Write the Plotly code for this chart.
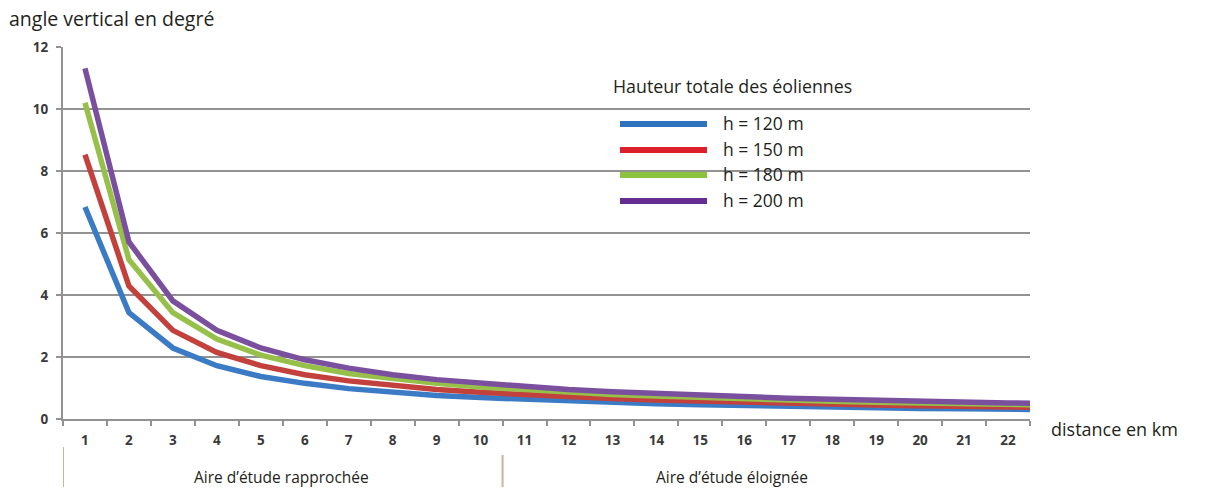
import plotly.graph_objects as go

# Distance from the turbines (km)
distance_km = list(range(1, 24))

# Vertical angle (degrees) under which a turbine of total height h is seen
angle_h120 = [6.84, 3.43, 2.29, 1.72, 1.37, 1.15, 0.98, 0.86, 0.76, 0.69, 0.63,
              0.57, 0.53, 0.49, 0.46, 0.43, 0.40, 0.38, 0.36, 0.34, 0.33, 0.31, 0.30]
angle_h150 = [8.53, 4.29, 2.86, 2.15, 1.72, 1.43, 1.23, 1.07, 0.95, 0.86, 0.78,
              0.72, 0.66, 0.61, 0.57, 0.54, 0.51, 0.48, 0.45, 0.43, 0.41, 0.39, 0.37]
angle_h180 = [10.20, 5.14, 3.43, 2.58, 2.06, 1.72, 1.47, 1.29, 1.15, 1.03, 0.94,
              0.86, 0.79, 0.74, 0.69, 0.64, 0.61, 0.57, 0.54, 0.52, 0.49, 0.47, 0.45]
angle_h200 = [11.31, 5.71, 3.81, 2.86, 2.29, 1.91, 1.64, 1.43, 1.27, 1.15, 1.04,
              0.95, 0.88, 0.82, 0.76, 0.72, 0.67, 0.64, 0.60, 0.57, 0.55, 0.52, 0.50]

series_names = ["h = 120 m", "h = 150 m", "h = 180 m", "h = 200 m"]
series_values = [angle_h120, angle_h150, angle_h180, angle_h200]
line_colors = ["#3b7ac4", "#c3413c", "#96c04a", "#7a4f9e"]
key_colors = ["#2f72be", "#dc1f2a", "#8cc33c", "#662d91"]

x_tick_labels = [str(d) for d in range(1, 23)]
y_tick_values = [0, 2, 4, 6, 8, 10, 12]

zone_labels = ["Aire d\u2019étude rapprochée", "Aire d\u2019étude éloignée"]

FONT = "Open Sans"
GRID = "#929292"
TEXT = "#231f20"
TICK_TEXT = "#3a3a3a"

fig = go.Figure()
for name, vals, col in zip(series_names, series_values, line_colors):
    fig.add_trace(go.Scatter(
        x=distance_km, y=vals, mode="lines", name=name,
        line=dict(color=col, width=5.5), showlegend=False,
    ))

# plot-area geometry in pixels (used to place the free text)
L, R, T, B = 63, 1030, 47, 419
W, H = R - L, B - T


def px(xp):
    return (xp - L) / W


def py(yp):
    return (B - yp) / H


annotations = [
    dict(text="angle vertical en degré", x=px(7), y=py(18), xanchor="left",
         yanchor="middle", font=dict(size=19.5, color=TEXT)),
    dict(text="distance en km", x=px(1049), y=py(429), xanchor="left",
         yanchor="middle", font=dict(size=18, color=TEXT)),
    dict(text="Hauteur totale des éoliennes", x=px(611), y=py(86),
         xanchor="left", yanchor="middle", font=dict(size=17.8, color=TEXT)),
    dict(text=zone_labels[0], x=px(281), y=py(477), xanchor="center",
         yanchor="middle", font=dict(size=15.5, color=TEXT)),
    dict(text=zone_labels[1], x=px(732), y=py(477), xanchor="center",
         yanchor="middle", font=dict(size=15.5, color=TEXT)),
]

shapes = []
# legend key
key_y = [124, 150, 175, 201]
for name, col, yk in zip(series_names, key_colors, key_y):
    shapes.append(dict(type="line", xref="paper", yref="paper",
                       x0=px(620), x1=px(707), y0=py(yk), y1=py(yk),
                       line=dict(color=col, width=6)))
    annotations.append(dict(text=name, x=px(721), y=py(yk - 1), xanchor="left",
                            yanchor="middle", font=dict(size=17.5, color=TEXT)))

# zone separators below the axis
shapes.append(dict(type="line", xref="x", yref="paper", x0=0.5, x1=0.5,
                   y0=py(447), y1=py(487), line=dict(color="#c9b596", width=2)))
shapes.append(dict(type="line", xref="x", yref="paper", x0=10.5, x1=10.5,
                   y0=py(455), y1=py(487), line=dict(color="#c9b596", width=2)))

for a in annotations:
    a.update(xref="paper", yref="paper", showarrow=False)

fig.update_layout(
    width=1205, height=491,
    margin=dict(l=L, r=1205 - R, t=T, b=491 - B),
    paper_bgcolor="white", plot_bgcolor="white",
    font=dict(family=FONT, color=TEXT),
    annotations=annotations, shapes=shapes,
    showlegend=False,
)

fig.update_xaxes(
    range=[0.5, 22.5], tickmode="array",
    tickvals=list(range(1, 23)), ticktext=x_tick_labels,
    ticks="", showgrid=False, zeroline=False,
    showline=True, linecolor=GRID, linewidth=2,
    tickfont=dict(size=13.5, color=TICK_TEXT, weight="bold"),
    ticklabelstandoff=8,
    minor=dict(ticks="outside", tick0=0.5, dtick=1, ticklen=5,
               tickcolor=GRID, tickwidth=2, showgrid=False),
)
fig.update_yaxes(
    range=[0, 12], tickmode="array", tickvals=y_tick_values,
    ticks="outside", ticklen=5, tickcolor=GRID, tickwidth=2,
    showgrid=True, gridcolor=GRID, gridwidth=1.5, zeroline=False,
    showline=True, linecolor=GRID, linewidth=2,
    tickfont=dict(size=13.5, color=TICK_TEXT, weight="bold"),
    ticklabelstandoff=5,
)

fig.write_html("out.html")
